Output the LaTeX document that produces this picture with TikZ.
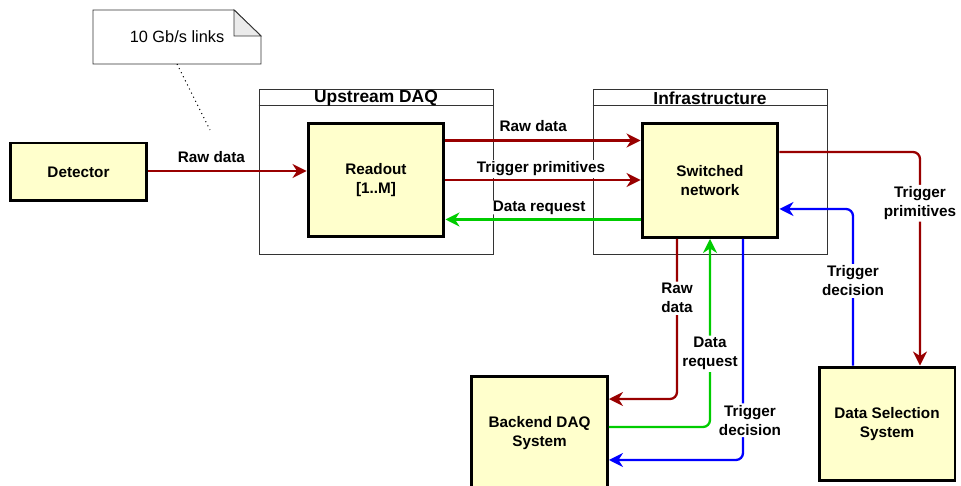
\documentclass[tikz,border=0pt]{standalone}
\usepackage{fontspec}
\setmainfont{Liberation Sans}
\usetikzlibrary{arrows.meta, positioning, calc}
\definecolor{cred}{HTML}{990000}
\definecolor{cgreen}{HTML}{00CC00}
\definecolor{cblue}{HTML}{0000FF}
\definecolor{cfill}{HTML}{FFFFCC}
\definecolor{cfold}{HTML}{EBEBEB}
\tikzset{
  every picture/.style={line width=1.2pt},
  block/.style={draw=black, fill=cfill, line width=1.7pt, minimum width=2.72cm, minimum height=2.28cm, align=center, font=\fontsize{8.7}{10.6}\selectfont\bfseries},
  group/.style={draw=black!80, line width=0.5pt, minimum width=4.68cm, minimum height=3.3cm},
  grouptitle/.style={font=\fontsize{9.9}{11}\selectfont\bfseries},
  flow/.style={-{Stealth[length=2.8mm, width=2.8mm, inset=0.9mm]}, draw=#1, line width=1.3pt, rounded corners=4pt},
  lbl/.style={font=\fontsize{8.7}{10.8}\selectfont\bfseries, align=center, fill=white, inner sep=1pt},
  notebox/.style={draw=black!80, line width=0.5pt},
}

\begin{document}
\begin{tikzpicture}[x=0.02cm, y=-0.02cm]
  \useasboundingbox (0,0) rectangle (961,486);
  % containers
  \node[group] (updaq) at (376,171.5) {};
  \draw[group] ([yshift=-0.34cm]updaq.north west) -- ([yshift=-0.34cm]updaq.north east);
  \node[grouptitle] (updaqtitle) at ([yshift=-0.2cm]updaq.north) {Upstream DAQ};
  \node[group] (infra) at (710,171.5) {};
  \draw[group] ([yshift=-0.34cm]infra.north west) -- ([yshift=-0.34cm]infra.north east);
  \node[grouptitle] (infratitle) at ([yshift=-0.2cm]infra.north) {Infrastructure};
  % note
  \node[minimum width=3.32cm, minimum height=1.04cm, font=\fontsize{9.3}{11}\selectfont] (linknote) at (177,37) {10 Gb/s links};
  \draw[notebox] (linknote.south west) -- (linknote.north west) -- ([xshift=-0.54cm]linknote.north east)
    -- ([yshift=-0.52cm]linknote.north east) -- (linknote.south east) -- cycle;
  \draw[notebox, fill=cfold] ([xshift=-0.54cm]linknote.north east) -- ([xshift=-0.54cm, yshift=-0.52cm]linknote.north east)
    -- ([yshift=-0.52cm]linknote.north east) -- cycle;
  \coordinate (linkend) at (210,130);
  \draw[dotted, line width=0.6pt] (linknote.south) -- (linkend);
  % blocks
  \node[block, minimum height=1.16cm] (det) at (78.5,172) {Detector};
  \node[block] (ro) at (376,180) {Readout\\{[1..M]}};
  \node[block] (sw) at (710,180.5) {Switched\\network};
  \node[block] (be) at (539.5,433) {Backend DAQ\\System};
  \node[block] (dss) at (887,424) {Data Selection\\System};
  % flows
  \draw[flow=cred] ([yshift=0.02cm]det.east) -- node[lbl, pos=0.4, yshift=0.27cm] {Raw data} ([yshift=0.02cm]det.east -| ro.west);
  \draw[flow=cred] ([yshift=0.79cm]ro.east) -- node[lbl, pos=0.45, yshift=0.28cm] {Raw data} ([yshift=0.79cm]ro.east -| sw.west);
  \draw[flow=cred] (ro.east) -- node[lbl, pos=0.49, yshift=0.22cm] {Trigger primitives} (ro.east -| sw.west);
  \draw[flow=cgreen] ([yshift=-0.78cm]sw.west) -- node[lbl, pos=0.52, yshift=0.24cm] {Data request} ([yshift=-0.78cm]sw.west -| ro.east);
  \draw[flow=cred] ([yshift=0.57cm]sw.east) -| node[lbl, pos=0.62] {Trigger\\primitives} ([xshift=0.66cm]dss.north);
  \draw[flow=cblue] ([xshift=-0.68cm]dss.north) |- node[lbl, pos=0.27] {Trigger\\decision} ([yshift=-0.57cm]sw.east);
  \draw[flow=cred] ([xshift=-0.66cm]sw.south) |- node[lbl, pos=0.185] {Raw\\data} ([yshift=0.68cm]be.east);
  \draw[flow=cgreen] ([yshift=0.12cm]be.east) -| node[lbl, pos=0.695] {Data\\request} (sw.south);
  \draw[flow=cblue] ([xshift=0.66cm]sw.south) |- node[lbl, pos=0.41, xshift=0.14cm] {Trigger\\decision} ([yshift=-0.54cm]be.east);
\end{tikzpicture}
\end{document}
